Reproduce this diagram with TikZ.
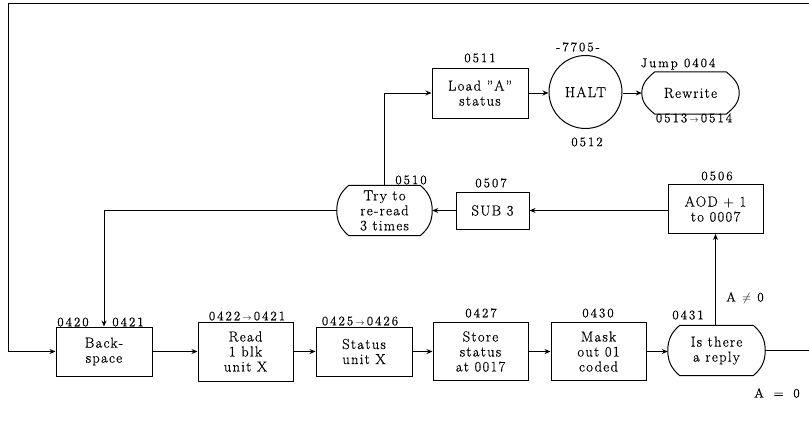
\documentclass[tikz,border=0pt]{standalone}
\usepackage{fontspec}
\setmainfont{Latin Modern Roman}[LetterSpace=9,FakeBold=0.6]
\newfontfamily\lblfont{Latin Modern Roman}[LetterSpace=15,FakeBold=0.6]
\usetikzlibrary{arrows.meta}
\begin{document}
\begin{tikzpicture}[x=1pt,y=1pt,
  every node/.style={font=\fontsize{14.5}{15}\selectfont, inner sep=0pt},
  box/.style={draw, line width=1pt, align=center},
  term/.style={align=center},
  lbl/.style={font=\lblfont\fontsize{13}{14}\selectfont},
  line/.style={line width=1pt},
  arr/.style={line width=1pt, -{Stealth[length=6pt,width=5pt]}}]
\useasboundingbox (0,0) rectangle (809,-423);
\newcommand\termdraw[2]{%
  \draw[line] ([xshift=#2]#1.north west) -- ([xshift=-#2]#1.north east)
    to[out=-40,in=90] (#1.east) to[out=-90,in=40] ([xshift=-#2]#1.south east)
    -- ([xshift=#2]#1.south west) to[out=140,in=-90] (#1.west)
    to[out=90,in=-140] ([xshift=#2]#1.north west) -- cycle;}
% row 3
\node[box, minimum width=96pt, minimum height=49pt] (bs) at (104,-351.5) {Back-\\space};
\node[box, minimum width=95pt, minimum height=59pt] (rd) at (245.5,-351.5) {Read\\1 blk\\unit X};
\node[box, minimum width=96pt, minimum height=49pt] (st) at (364,-351.5) {Status\\unit X};
\node[box, minimum width=95pt, minimum height=58pt] (ss) at (480.5,-351.5) {Store\\status\\at 0017};
\node[box, minimum width=95pt, minimum height=58pt] (mk) at (598.5,-351.5) {Mask\\out 01\\coded};
\node[term, minimum width=97pt, minimum height=50pt] (rp) at (716.5,-350.5) {Is there\\a reply};
\termdraw{rp}{12pt}
% row 2
\node[box, minimum width=95pt, minimum height=49pt] (aod) at (715.5,-209) {AOD + 1\\to 0007};
\node[box, minimum width=73pt, minimum height=37pt] (sub) at (492.5,-210.5) {SUB 3};
\node[term, minimum width=95pt, minimum height=50pt] (try) at (384.5,-210.5) {Try to\\re-read\\3 times};
\termdraw{try}{12pt}
% row 1
\node[box, minimum width=96pt, minimum height=50pt] (ld) at (480,-93) {Load "A"\\status};
\node[draw, line width=1pt, circle, minimum size=73pt] (halt) at (585.5,-92) {HALT};
\node[term, minimum width=97pt, minimum height=42pt] (rw) at (690.5,-93) {Rewrite};
\termdraw{rw}{13pt}
% labels
\node[lbl] (l1) at (73,-322) {0420};
\node[lbl] (l2) at (128,-322) {0421};
\node[lbl] (l3) at (247,-316) {0422\,{\fontsize{9}{9}\selectfont$\rightarrow$}\,0421};
\node[lbl] (l4) at (360,-321) {0425\,{\fontsize{9}{9}\selectfont$\rightarrow$}\,0426};
\node[lbl] (l5) at (481,-313) {0427};
\node[lbl] (l6) at (598,-313) {0430};
\node[lbl] (l7) at (688,-315) {0431};
\node[lbl] (l8) at (745,-298) {A $\neq$ 0};
\node[lbl] (l9) at (777,-393) {A \;=\; 0};
\node[lbl] (l10) at (717,-176) {0506};
\node[lbl] (l11) at (491,-183) {0507};
\node[lbl] (l12) at (411,-180) {0510};
\node[lbl] (l13) at (480,-58) {0511};
\node[lbl] (l14) at (578,-47) {-7705-};
\node[lbl] (l15) at (587,-142) {0512};
\node[lbl] (l16) at (678,-64) {Jump 0404};
\node[lbl] (l17) at (694,-118) {0513\,{\fontsize{9}{9}\selectfont$\rightarrow$}\,0514};
% coordinates
\coordinate (tl) at (8,-3);
\coordinate (tr) at (809,-3);
\coordinate (re) at (809,-350.5);
% connectors
\draw[arr] (tr) -- (tl) |- (bs.west);
\draw[line] (rp.east) -- (re);
\draw[arr] (bs.east) -- (rd.west);
\draw[arr] (rd.east) -- (st.west);
\draw[arr] (st.east) -- (ss.west);
\draw[arr] (ss.east) -- (mk.west);
\draw[arr] (mk.east) -- (mk.east -| rp.west);
\draw[arr] (rp.north -| aod.south) -- (aod.south);
\draw[arr] (aod.west |- sub.east) -- (sub.east);
\draw[arr] (sub.west) -- (try.east);
\draw[arr] (try.west) -| (bs.north);
\draw[arr] (try.north) |- (ld.west);
\draw[arr] (ld.east) -- (ld.east -| halt.west);
\draw[arr] (halt.east |- rw.west) -- (rw.west);
\end{tikzpicture}
\end{document}
